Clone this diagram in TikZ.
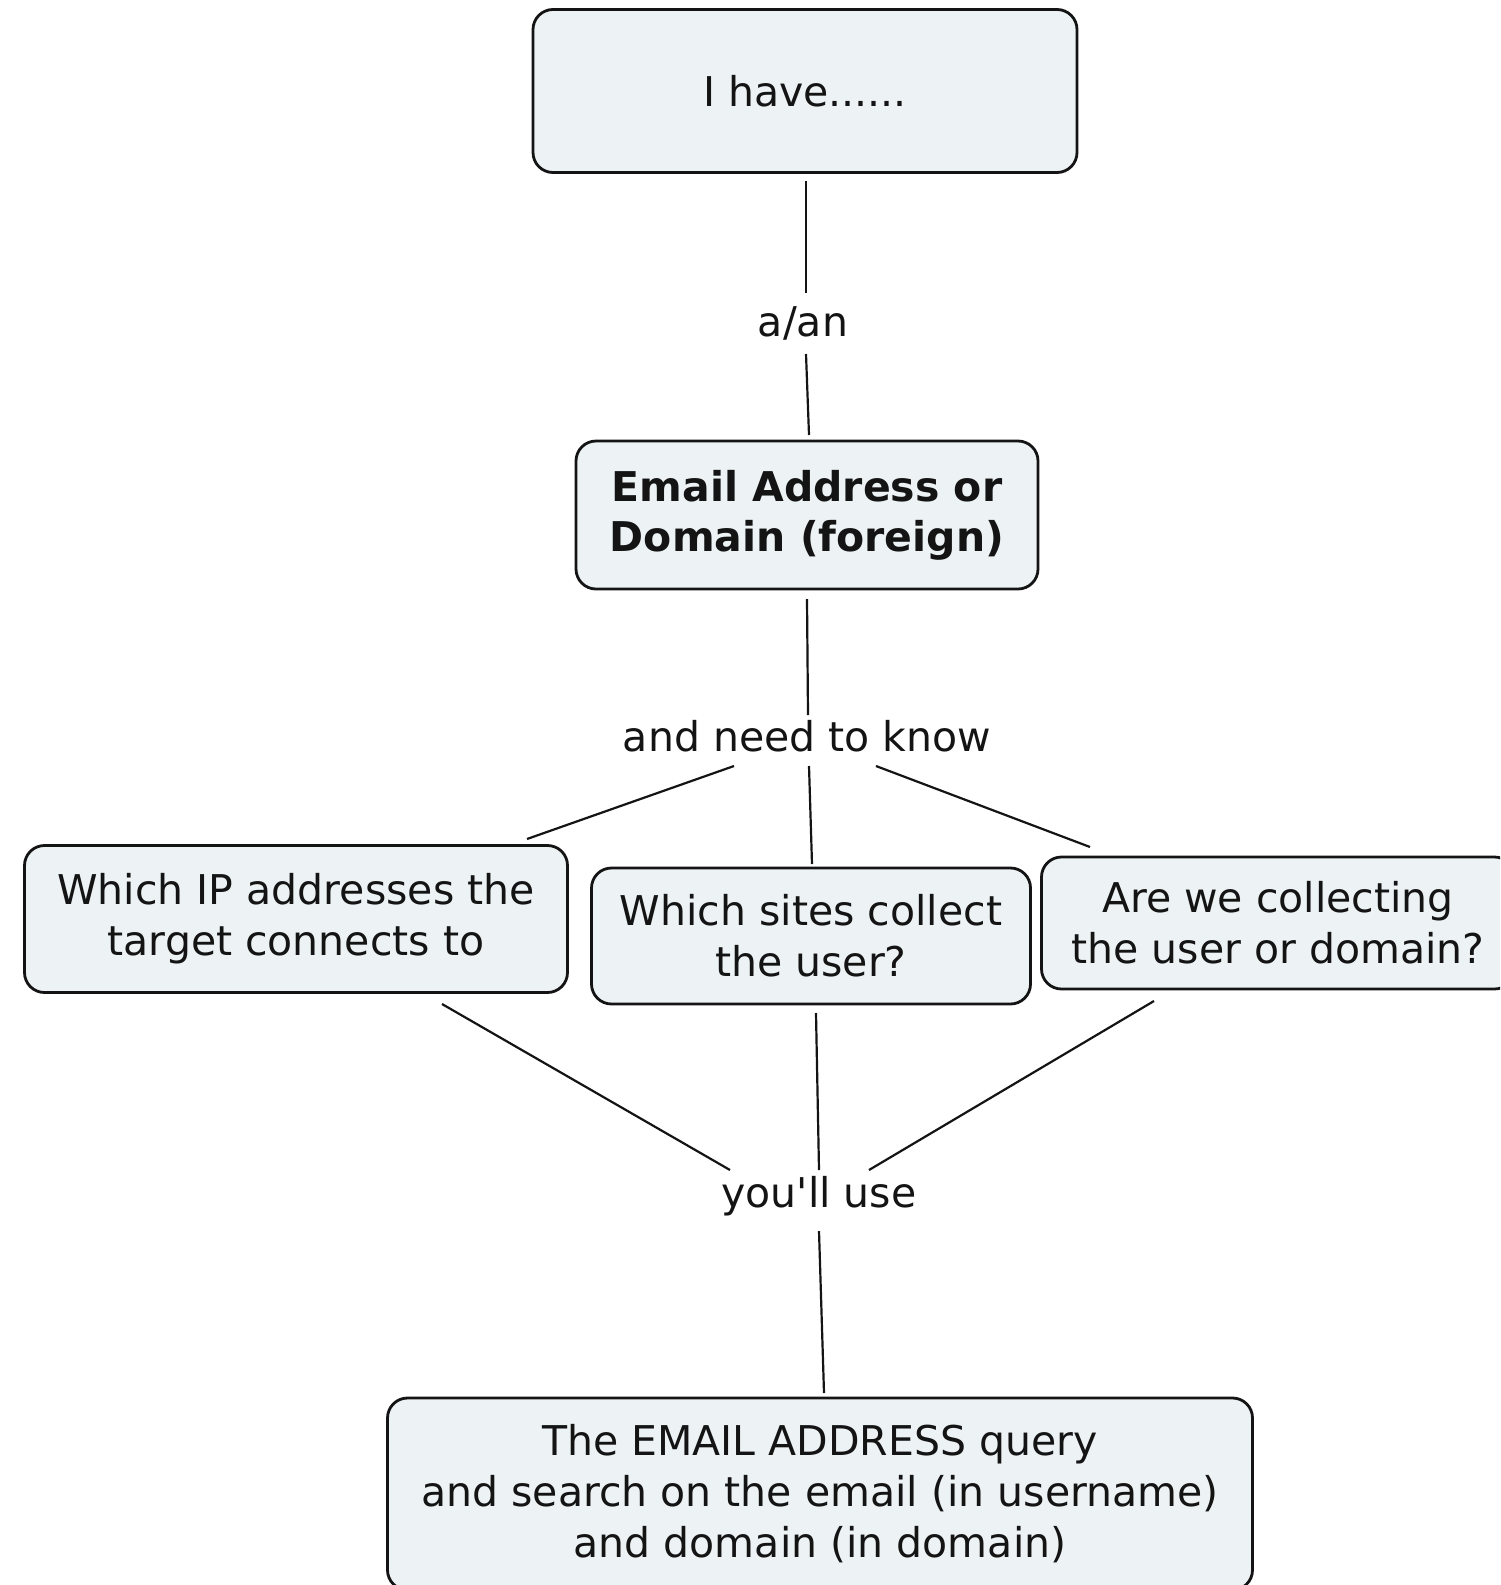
\documentclass[tikz,border=0pt]{standalone}
\usepackage{fontspec}
\setmainfont{DejaVu Sans}[Ligatures=TeXOff]
\usetikzlibrary{calc}
\definecolor{boxfill}{RGB}{237,243,245}
\definecolor{ink}{RGB}{20,20,20}
\tikzset{
  concept/.style={draw=ink, line width=2.8pt, fill=boxfill, rounded corners=20pt,
    align=center, inner sep=0pt, font=\fontsize{41}{51}\selectfont, text=ink},
  linklabel/.style={inner sep=0pt, font=\fontsize{41}{51}\selectfont, text=ink},
  conn/.style={draw=ink, line width=2.2pt}
}
\begin{document}
\begin{tikzpicture}[x=1pt,y=-1pt]
\useasboundingbox (0,0) rectangle (1500,1585);
\clip (0,0) rectangle (1500,1585);
\node[concept, minimum width=544pt, minimum height=163pt] (top) at (805,91) {I have......};
\node[linklabel] (aan) at (803,323) {a/an};
\node[concept, minimum width=462pt, minimum height=148pt, font=\fontsize{41}{50}\selectfont\bfseries] (email) at (807,515) {Email Address or\\Domain (foreign)};
\node[linklabel] (need) at (807,736) {and need to know};
\node[concept, minimum width=543pt, minimum height=147pt] (ip) at (296,919) {Which IP addresses the\\target connects to};
\node[concept, minimum width=439pt, minimum height=136pt] (sites) at (811,936) {Which sites collect\\the user?};
\node[concept, minimum width=473pt, minimum height=132pt] (coll) at (1278,923) {Are we collecting\\the user or domain?};
\node[linklabel] (use) at (819,1196) {you'll use};
\node[concept, minimum width=865pt, minimum height=192pt] (query) at (820,1494) {The EMAIL ADDRESS query\\and search on the email (in username)\\and domain (in domain)};
\draw[conn] ($(top.center)+(1,90)$) -- ($(aan.center)+(3,-30)$);
\draw[conn] ($(aan.center)+(3,31)$) -- ($(email.center)+(2,-80)$);
\draw[conn] ($(email.center)+(0,84)$) -- ($(need.center)+(1,-21)$);
\draw[conn] ($(need.center)+(-73,30)$) -- ($(ip.center)+(231,-80)$);
\draw[conn] ($(need.center)+(2,30)$) -- ($(sites.center)+(1,-72)$);
\draw[conn] ($(need.center)+(69,30)$) -- ($(coll.center)+(-188,-76)$);
\draw[conn] ($(ip.center)+(146,85)$) -- ($(use.center)+(-89,-26)$);
\draw[conn] ($(sites.center)+(5,77)$) -- ($(use.center)+(0,-26)$);
\draw[conn] ($(coll.center)+(-124,78)$) -- ($(use.center)+(50,-26)$);
\draw[conn] ($(use.center)+(0,35)$) -- ($(query.center)+(4,-101)$);
\end{tikzpicture}
\end{document}
